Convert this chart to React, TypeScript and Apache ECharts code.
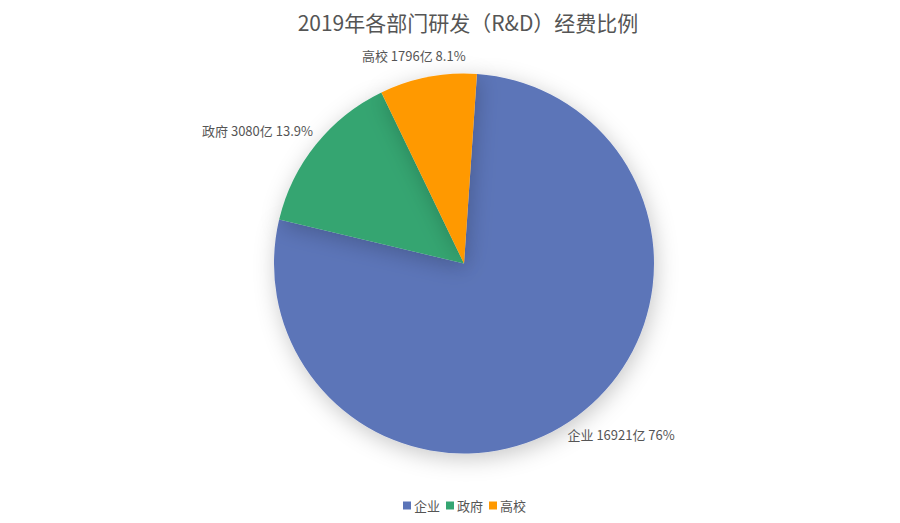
import React, { useEffect, useRef } from "react";
import * as echarts from "echarts";

const titleText = "2019年各部门研发（R&D）经费比例";
const categories = ["企业", "政府", "高校"];
const values = [16921, 3080, 1796];
const percentLabels = ["76%", "13.9%", "8.1%"];
const colors = ["#5b74b8", "#34a571", "#ff9900"];

const CX = 464;
const CY = 263.5;
const R = 190;

export default function App() {
  const ref = useRef<HTMLDivElement>(null);
  useEffect(() => {
    if (!ref.current) return;
    const chart = echarts.init(ref.current, undefined, { renderer: "svg" });
    const total = values.reduce((a, b) => a + b, 0);
    const startDeg = 3.9; // clockwise from top
    const mids: number[] = [];
    let acc = 0;
    values.forEach((v) => {
      const span = (v / total) * 360;
      mids.push(startDeg + acc + span / 2);
      acc += span;
    });
    chart.setOption({
      animation: false,
      color: colors,
      title: {
        text: titleText,
        left: 463,
        textAlign: "center",
        top: 6,
        textStyle: {
          fontSize: 21,
          fontWeight: "normal",
          color: "#555555",
          fontFamily: "Noto Sans CJK SC",
        },
      },
      legend: {
        bottom: 6,
        left: 398,
        icon: "rect",
        itemWidth: 8,
        itemHeight: 8,
        itemGap: 6,
        textStyle: { fontSize: 13, color: "#555555", fontFamily: "Noto Sans CJK SC", padding: [0, 0, 0, -2] },
        data: categories,
      },
      series: [
        {
          type: "pie",
          center: [CX, CY],
          radius: R,
          startAngle: 90 - startDeg,
          clockwise: true,
          data: categories.map((c, i) => ({ name: c, value: values[i] })),
          itemStyle: {
            shadowBlur: 22,
            shadowColor: "rgba(0,0,0,0.22)",
            shadowOffsetX: 2,
            shadowOffsetY: 5,
          },
          label: {
            show: true,
            position: "outside",
            fontSize: 13,
            color: "#555555",
            fontFamily: "Noto Sans CJK SC",
            formatter: (p: any) => `${p.name} ${values[p.dataIndex]}亿 ${percentLabels[p.dataIndex]}`,
          },
          labelLine: { show: false },
          labelLayout: (p: any) => {
            const a = (mids[p.dataIndex] * Math.PI) / 180;
            return {
              x: CX + Math.sin(a) * (R + 75),
              y: CY - Math.cos(a) * (R + 22),
              align: "center",
              verticalAlign: "middle",
            };
          },
          emphasis: { disabled: true },
        },
      ],
    });
    return () => chart.dispose();
  }, []);
  return (
    <div
      ref={ref}
      style={{ position: "absolute", left: 0, top: 0, width: 900, height: 523, background: "#fff" }}
    />
  );
}
